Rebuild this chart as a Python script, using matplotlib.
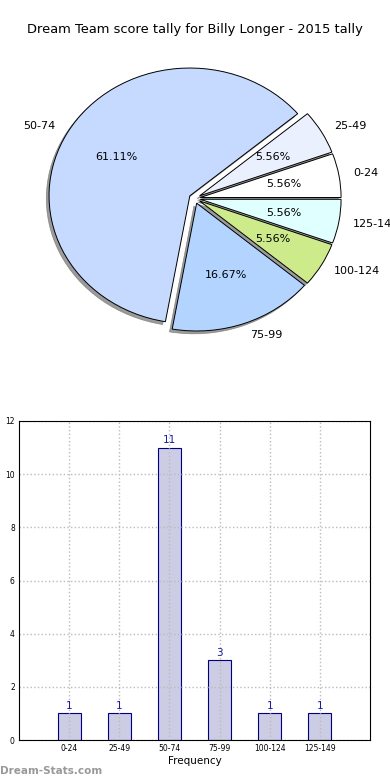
import matplotlib
matplotlib.use("Agg")
import matplotlib.pyplot as plt

categories = ['0-24', '25-49', '50-74', '75-99', '100-124', '125-149']
values = [1, 1, 11, 3, 1, 1]
pie_colors = ['#ffffff', '#ebf0ff', '#c6d9ff', '#b3d4ff', '#cdeb8b', '#e0ffff']
explode = [0.04, 0.04, 0.04, 0.04, 0.04, 0.04]

fig = plt.figure(figsize=(3.9, 7.8), dpi=100)

# Pie (elliptical, as in the reference)
axp = fig.add_axes([0.0, 1 - 360/780, 1.0, 320/780])
wedges, texts, autotexts = axp.pie(values, labels=categories, colors=pie_colors,
                                   explode=explode, autopct='%1.2f%%',
                                   shadow={'ox': -0.014, 'oy': -0.016,
                                           'facecolor': '#666666', 'edgecolor': '#666666',
                                           'alpha': 0.65, 'linewidth': 0.5},
                                   startangle=0, counterclock=True,
                                   wedgeprops=dict(edgecolor='black', linewidth=0.7),
                                   textprops=dict(fontsize=8), labeldistance=1.1,
                                   pctdistance=0.6)
axp.set_aspect('auto')
axp.set_xlim(-1.383, 1.387)
axp.set_ylim(-1.2645, 1.2394)
axp.axis('off')
fig.text(0.5, 1 - 30/780, 'Dream Team score tally for Billy Longer - 2015 tally',
         ha='center', va='center', fontsize=9.4)

# Bar
axb = fig.add_axes([19/390, 1-740/780, 351/390, 319/780])
x = list(range(1, len(categories)+1))
axb.bar(x, values, width=0.46, color='#ccccE4', edgecolor='#000080', linewidth=0.8, zorder=1)
for xi, v in zip(x, values):
    axb.text(xi, v + 0.08, str(v), ha='center', va='bottom', color='#1a1a9e', fontsize=7.5, zorder=4)
axb.set_xlim(0, 7)
axb.set_ylim(0, 12)
axb.set_xticks(x)
axb.set_xticklabels(categories, fontsize=5.5)
axb.set_yticks(range(0, 13, 2))
axb.tick_params(axis='y', labelsize=5.5)
axb.tick_params(length=0, pad=3)
axb.grid(True, linestyle=':', color='#bbbbbb', linewidth=1.0, zorder=2)
axb.set_axisbelow(False)
for gl in axb.get_xgridlines() + axb.get_ygridlines():
    gl.set_zorder(2)
axb.set_xlabel('Frequency', fontsize=7.5, labelpad=2)
axb.set_ylabel('Score Tally', fontsize=6.5)
axb.yaxis.set_label_coords(-0.052, 0.5)
for s in axb.spines.values():
    s.set_linewidth(0.8)
    s.set_zorder(3)

fig.text(0.0, 0.012, 'Dream-Stats.com', fontsize=7.5, color='#999999', ha='left', va='center', weight='bold')

fig.savefig('out.png', dpi=100)
